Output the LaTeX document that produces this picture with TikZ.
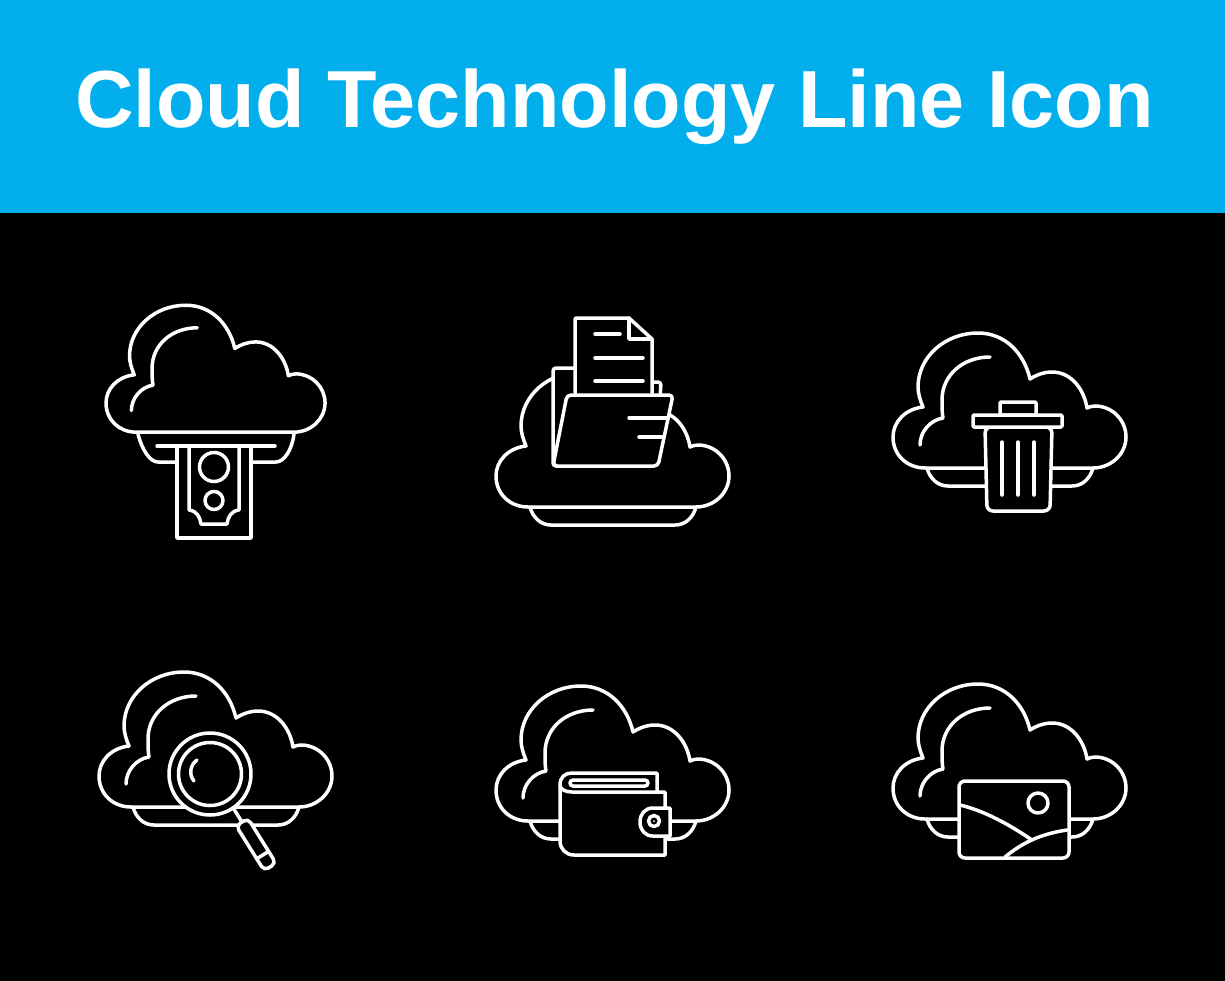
\documentclass[tikz,border=0pt]{standalone}
\usepackage{fontspec}
\setmainfont{Liberation Sans}
\definecolor{bandblue}{HTML}{03AEEC}
\begin{document}
\begin{tikzpicture}[
                    x=1pt, y=-1pt,
                    icon/.style={draw=white, line width=3.5pt, line cap=round, line join=round},
                    mask/.style={icon, fill=black},
                    cloud/.pic={
                        \draw[icon] (-85,31) -- (83,31)
                            .. controls (101,31) and (116,17) .. (116,0)
                            .. controls (116,-17) and (102,-31) .. (85,-31)
                            .. controls (82,-31) and (79,-30) .. (77,-29)
                            .. controls (74,-48) and (61,-65) .. (42,-65)
                            .. controls (34,-65) and (26,-62) .. (20,-58)
                            .. controls (14,-84) and (-5,-104) .. (-32,-104)
                            .. controls (-65,-104) and (-92,-80) .. (-92,-50)
                            .. controls (-92,-44) and (-90,-37) .. (-87,-30)
                            .. controls (-105,-28) and (-117,-15) .. (-117,0)
                            .. controls (-117,18) and (-103,31) .. (-85,31) -- cycle;
                    },
                    shine/.pic={
                        \draw[icon] (-20,-80)
                            .. controls (-47,-80) and (-68,-62) .. (-68,-37)
                            .. controls (-68,-30) and (-68,-24) .. (-67,-19)
                            .. controls (-80,-17) and (-90,-5) .. (-90,8);
                    },
                    dish/.pic={
                        \draw[icon] (-83,31) .. controls (-80,42) and (-72,49) .. (-62,49)
                            -- (62,49) .. controls (72,49) and (80,42) .. (83,31);
                    }
                ]
                  \useasboundingbox (0,0) rectangle (1225,980);
                  \fill[black] (-2,-2) rectangle (1227,982);
                  \fill[bandblue] (-2,-2) rectangle (1227,213);
                  \node[text=white, anchor=base, font=\fontsize{81}{90}\selectfont\bfseries] (title) at (614.5,127) {Cloud Technology Line Icon};

                  % money
                  \pic[scale=.94] at (216,403) {cloud};
                  \pic[scale=.94] at (216,403) {shine};
                  \draw[icon] (138,434) .. controls (142,450) and (150,462) .. (158,462) -- (177,462);
                  \draw[icon] (251,462) -- (276,462) .. controls (284,462) and (292,450) .. (294,434);
                  \draw[icon] (157,446) -- (275,446);
                  \draw[icon] (177,446) -- (177,538) -- (251,538) -- (251,446);
                  \draw[icon] (189,446) -- (189,510) .. controls (197,511) and (200,517) .. (201,524)
                      -- (227,524) .. controls (228,517) and (231,511) .. (239,510) -- (239,446);
                  \draw[icon] (214,467) circle (14.5);
                  \draw[icon] (214,500.5) circle (9);

                  % folder
                  \pic at (613,476) {cloud};
                  \pic at (613,476) {dish};
                  \draw[mask, rounded corners=3] (575,368) -- (553,368) -- (553,466) -- (656,466) -- (661,382) -- (652,382);
                  \draw[mask, rounded corners=1] (575,393) -- (575,318) -- (629,318) -- (652,339) -- (652,393);
                  \draw[icon] (629,318) -- (629,339) -- (652,339);
                  \draw[icon] (595,334) -- (620,334);
                  \foreach \liney in {358,381} {
                      \draw[icon] (595,\liney) -- (643,\liney);
                  }
                  \draw[mask, rounded corners=4] (567,395) -- (673,395) -- (658,466) -- (553,466) -- cycle;
                  \draw[icon] (629,418) -- (668,418);
                  \draw[icon] (639,437) -- (663,437);

                  % trash
                  \pic at (1010,437) {cloud};
                  \pic at (1010,437) {shine};
                  \pic at (1010,437) {dish};
                  \draw[mask, rounded corners=6] (985,427) -- (987,511) -- (1050,511) -- (1052,427) -- cycle;
                  \draw[icon, rounded corners=1] (1000,415) rectangle (1036,402);
                  \draw[mask, rounded corners=1] (973,415) rectangle (1062,427);
                  \foreach \barx in {1002,1018,1034} {
                      \draw[icon] (\barx,442) -- (\barx,495);
                  }

                  % search
                  \pic at (216,776) {cloud};
                  \pic at (216,776) {shine};
                  \pic at (216,776) {dish};
                  \draw[mask] (210,774) circle (41);
                  \draw[icon] (210,774) circle (31.5);
                  \draw[icon] (197,760) .. controls (191,764) and (188,774) .. (194,781);
                  \begin{scope}[shift={(242,822)}, rotate=-58]
                      \draw[icon] (-17,0) -- (0,0);
                      \draw[mask, rounded corners=5] (0,-7) rectangle (53,7);
                      \draw[icon] (39,-7) -- (39,7);
                  \end{scope}

                  % wallet
                  \pic at (613,790) {cloud};
                  \pic at (613,790) {shine};
                  \pic at (613,790) {dish};
                  \draw[mask] (560,785) .. controls (560,777) and (565,773) .. (572,773) -- (657,773) -- (657,792)
                      -- (665,792) -- (665,855) -- (574,855) .. controls (566,855) and (560,849) .. (560,841) -- cycle;
                  \draw[icon] (560,785) .. controls (560,789) and (565,792) .. (572,792) -- (657,792);
                  \draw[icon, rounded corners=3] (570,780) rectangle (648,786);
                  \draw[mask] (670,808) -- (653,808) .. controls (645,808) and (640,814) .. (640,822)
                      .. controls (640,830) and (645,836) .. (653,836) -- (670,836) -- cycle;
                  \draw[icon] (654,821) circle (5.5);
                  \fill[white] (654,821) circle (1);

                  % picture
                  \pic at (1010,788) {cloud};
                  \pic at (1010,788) {shine};
                  \pic at (1010,788) {dish};
                  \draw[mask, rounded corners=6] (959,781) rectangle (1069,858);
                  \draw[icon] (1038,803) circle (10);
                  \draw[icon] (960,805) .. controls (985,811) and (1010,825) .. (1032,840);
                  \draw[icon] (1005,857) .. controls (1022,843) and (1040,834) .. (1067,830);
                \end{tikzpicture}
\end{document}
